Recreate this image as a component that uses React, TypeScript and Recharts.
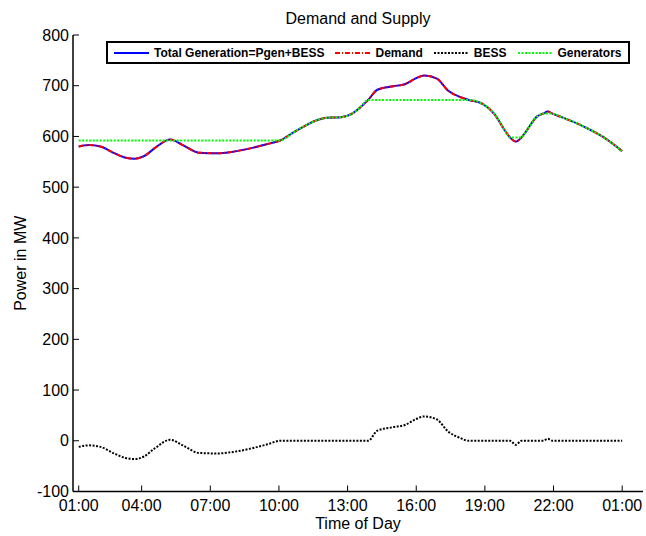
import React from 'react'
import { LineChart, Line, XAxis, YAxis, Legend, Label } from 'recharts'

// time of day in hours (1 = 01:00, 25 = 01:00 next day)
const hours = [
  1.25, 1.7, 2.2, 2.8, 3.3, 3.7, 4.1, 4.6, 5.25, 5.8, 6.5, 7.3, 8.0, 8.7, 9.5, 10.05,
  10.6, 11.1, 11.6, 12.1, 12.7, 13.2, 13.5, 13.9, 14.3, 15.0, 15.5, 16.0, 16.35, 16.9,
  17.4, 17.9, 18.3, 18.9, 19.4, 19.9, 20.1, 20.35, 20.6, 20.8, 21.3, 21.55, 21.75, 21.95,
  22.3, 23.3, 24.2, 25.0,
]

const totalGeneration = [
  580, 583, 580, 567, 558, 556, 561, 578, 594, 583, 568, 567, 570, 576, 585, 592,
  607, 620, 631, 637, 638, 645, 655, 672, 692, 699, 703, 715, 720, 714,
  690, 678, 672, 664, 645, 610, 598, 590, 598, 610, 640, 645, 649, 645,
  639, 620, 598, 571,
]

const demand = [
  580, 583, 580, 567, 558, 556, 561, 578, 594, 583, 568, 567, 570, 576, 585, 592,
  607, 620, 631, 637, 638, 645, 655, 672, 692, 699, 703, 715, 720, 714,
  690, 678, 672, 664, 645, 610, 598, 590, 598, 610, 640, 645, 649, 645,
  639, 620, 598, 571,
]

const bess = [
  -12, -9, -12, -25, -34, -36, -31, -14, 2, -9, -24, -25, -22, -16, -7, 0,
  0, 0, 0, 0, 0, 0, 0, 0, 20, 27, 31, 43, 48, 42,
  18, 6, 0, 0, 0, 0, 0, -8, 0, 0, 0, 0, 4, 0,
  0, 0, 0, 0,
]

const generators = [
  592, 592, 592, 592, 592, 592, 592, 592, 592, 592, 592, 592, 592, 592, 592, 592,
  607, 620, 631, 637, 638, 645, 655, 672, 672, 672, 672, 672, 672, 672,
  672, 672, 672, 664, 645, 610, 598, 598, 598, 610, 640, 645, 645, 645,
  639, 620, 598, 571,
]

const xTicks = [1.25, 4, 7, 10, 13, 16, 19, 22, 25]
const xTickLabels = ['01:00', '04:00', '07:00', '10:00', '13:00', '16:00', '19:00', '22:00', '01:00']
const yTicks = [-100, 0, 100, 200, 300, 400, 500, 600, 700, 800]

const data = hours.map((h, i) => ({
  h,
  total: totalGeneration[i],
  demand: demand[i],
  bess: bess[i],
  gen: generators[i],
}))

const FONT = '"Liberation Sans", Arial, Helvetica, sans-serif'

const seriesStyles = [
  { key: 'total', name: 'Total Generation=Pgen+BESS', color: '#0000ff', dash: undefined as string | undefined },
  { key: 'demand', name: 'Demand', color: '#ff0000', dash: '5 2 1 2' },
  { key: 'bess', name: 'BESS', color: '#000000', dash: '2 1.5' },
  { key: 'gen', name: 'Generators', color: '#00ff00', dash: '2 1.5' },
]

function BottomTick(props: any) {
  const { x, y, payload } = props
  const i = xTicks.indexOf(payload.value)
  return (
    <g>
      <line x1={x} y1={y} x2={x} y2={y - 6} stroke="#000" />
      <text x={x} y={y + 19} textAnchor="middle" fontSize={16} fontFamily={FONT} fill="#000">
        {xTickLabels[i] ?? ''}
      </text>
    </g>
  )
}

function TopTick(props: any) {
  const { x, y } = props
  return <line x1={x} y1={y} x2={x} y2={y + 6} stroke="#000" />
}

function LeftTick(props: any) {
  const { x, y, payload } = props
  return (
    <g>
      <line x1={x} y1={y} x2={x + 6} y2={y} stroke="#000" />
      <text x={x - 4} y={y + 5.7} textAnchor="end" fontSize={16} fontFamily={FONT} fill="#000">
        {payload.value}
      </text>
    </g>
  )
}

function RightTick(props: any) {
  const { x, y } = props
  return <line x1={x} y1={y} x2={x - 6} y2={y} stroke="#000" />
}

function LegendBox() {
  return (
    <div
      style={{
        boxSizing: 'border-box',
        width: 524,
        height: 23,
        border: '2px solid #000',
        background: '#fff',
        display: 'flex',
        alignItems: 'center',
        paddingLeft: 6,
        gap: 11,
        fontFamily: FONT,
        fontWeight: 'bold',
        fontSize: 12,
        color: '#000',
        whiteSpace: 'nowrap',
      }}
    >
      {seriesStyles.map((s) => (
        <div key={s.key} style={{ display: 'flex', alignItems: 'center' }}>
          <svg width={35} height={6} style={{ marginRight: 5 }}>
            <line x1={0} y1={3} x2={35} y2={3} stroke={s.color} strokeWidth={2} strokeDasharray={s.dash} />
          </svg>
          <span>{s.name}</span>
        </div>
      ))}
    </div>
  )
}

export default function App() {
  return (
    <div style={{ position: 'absolute', left: 0, top: 0, width: 646, height: 536, background: '#fff' }}>
      <div
        style={{
          position: 'absolute',
          left: 73,
          top: 9.5,
          width: 570,
          textAlign: 'center',
          fontFamily: FONT,
          fontSize: 16,
          lineHeight: 'normal',
          color: '#000',
        }}
      >
        Demand and Supply
      </div>
      <LineChart width={646} height={536} data={data} margin={{ top: 35, right: 3, bottom: 6.5, left: 0 }}>
        <XAxis
          dataKey="h"
          type="number"
          domain={[1, 25.91]}
          ticks={xTicks}
          height={38}
          tickSize={0}
          tickMargin={0}
          tickLine={false}
          tick={<BottomTick />}
          axisLine={{ stroke: '#000', strokeWidth: 1.5 }}
          interval={0}
        >
          <Label value="Time of Day" position="insideBottom" offset={1} fontSize={16} fontFamily={FONT} fill="#000" />
        </XAxis>
        <XAxis
          xAxisId="top"
          orientation="top"
          dataKey="h"
          type="number"
          domain={[1, 25.91]}
          ticks={xTicks}
          height={0}
          tickSize={0}
          tickMargin={0}
          tickLine={false}
          tick={<TopTick />}
          axisLine={{ stroke: '#000', strokeWidth: 1.5 }}
          interval={0}
        />
        <YAxis
          type="number"
          domain={[-100, 800]}
          ticks={yTicks}
          width={73}
          tickSize={0}
          tickMargin={0}
          tickLine={false}
          tick={<LeftTick />}
          axisLine={{ stroke: '#000', strokeWidth: 1.5 }}
          interval={0}
        >
          <Label
            value="Power in MW"
            angle={-90}
            position="insideLeft"
            offset={20.5}
            fontSize={16}
            fontFamily={FONT}
            fill="#000"
            style={{ textAnchor: 'middle' }}
          />
        </YAxis>
        <YAxis
          yAxisId="right"
          orientation="right"
          type="number"
          domain={[-100, 800]}
          ticks={yTicks}
          width={0}
          tickSize={0}
          tickMargin={0}
          tickLine={false}
          tick={<RightTick />}
          axisLine={{ stroke: '#000', strokeWidth: 1.5 }}
          interval={0}
        />
        <Legend
          layout="horizontal"
          verticalAlign="middle"
          align="center"
          wrapperStyle={{ top: 41, left: 106, width: 524, height: 23 }}
          content={() => <LegendBox />}
        />
        {seriesStyles.map((s) => (
          <Line
            key={s.key}
            dataKey={s.key}
            name={s.name}
            type="monotone"
            stroke={s.color}
            strokeWidth={2}
            strokeDasharray={s.dash}
            dot={false}
            activeDot={false}
            isAnimationActive={false}
          />
        ))}
      </LineChart>
    </div>
  )
}
